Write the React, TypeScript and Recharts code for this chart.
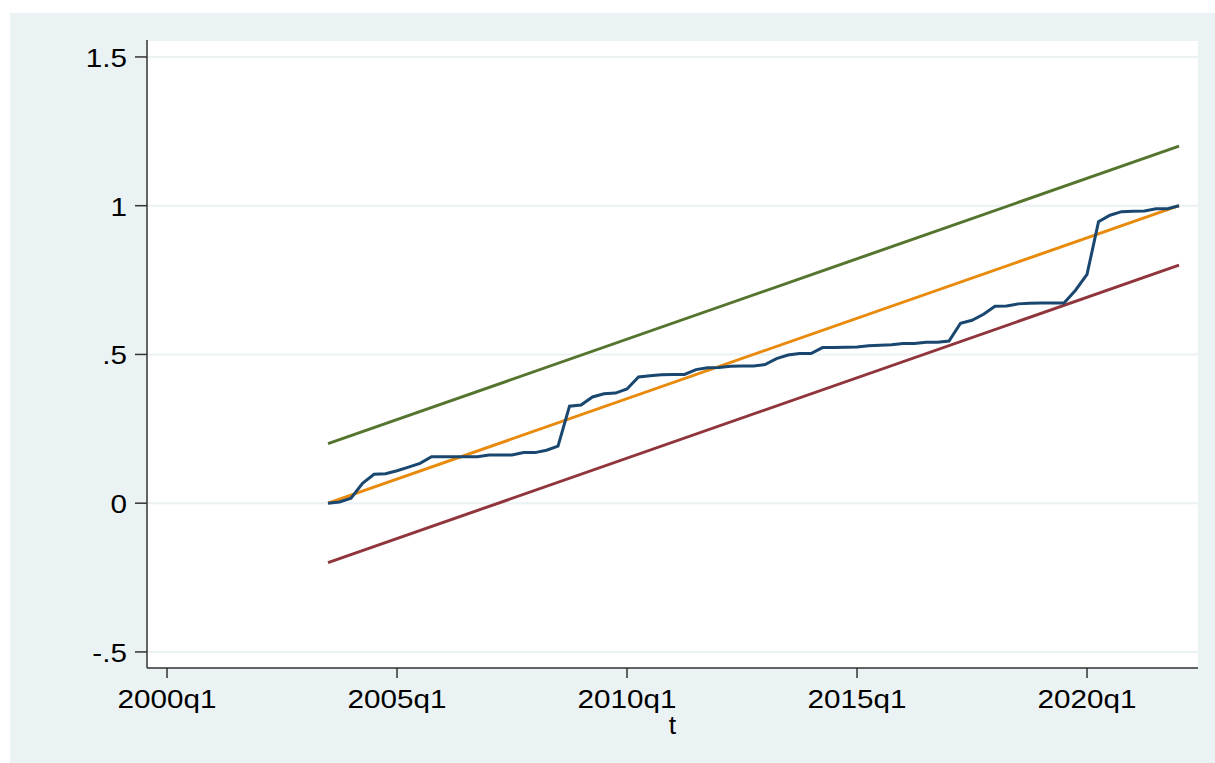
import { CartesianGrid, Line, LineChart, XAxis, YAxis } from "recharts";

// Stata quarterly dates: 2000q1 = 160
const firstQuarter = 174; // 2003q3
const lastQuarter = 248; // 2022q1
const xTicks = [160, 180, 200, 220, 240];
const yTicks = [-0.5, 0, 0.5, 1, 1.5];
const yTickLabels = ["-.5", "0", ".5", "1", "1.5"];

// recursive cusum, one value per quarter from 2003q3
const cusum = [
  0.0, 0.004, 0.017, 0.067, 0.097, 0.099, 0.109, 0.121, 0.134, 0.156,
  0.156, 0.156, 0.156, 0.156, 0.162, 0.162, 0.162, 0.17, 0.17, 0.178,
  0.192, 0.326, 0.33, 0.357, 0.368, 0.37, 0.384, 0.424, 0.428, 0.432,
  0.433, 0.433, 0.449, 0.455, 0.456, 0.46, 0.461, 0.461, 0.466, 0.486,
  0.498, 0.503, 0.503, 0.523, 0.523, 0.524, 0.525, 0.529, 0.531, 0.533,
  0.537, 0.537, 0.541, 0.541, 0.545, 0.605, 0.615, 0.635, 0.662, 0.663,
  0.67, 0.672, 0.673, 0.673, 0.673, 0.716, 0.769, 0.946, 0.968, 0.98,
  0.981, 0.982, 0.99, 0.99, 1.0,
];

// straight reference lines: value at first and last quarter
const midLine = [0, 1];
const upperBand = [0.2, 1.2];
const lowerBand = [-0.2, 0.8];

const FONT = '"Liberation Sans", Arial, sans-serif';
const AXIS = "#333333";

const rows = cusum.map((v, i) => {
  const t = firstQuarter + i;
  const end = t === firstQuarter ? 0 : t === lastQuarter ? 1 : -1;
  return {
    t,
    cusum: v,
    mid: end >= 0 ? midLine[end] : undefined,
    upper: end >= 0 ? upperBand[end] : undefined,
    lower: end >= 0 ? lowerBand[end] : undefined,
  };
});

const quarterLabel = (t: number) => `${1960 + Math.floor(t / 4)}q${(t % 4) + 1}`;

function XTick(props: any) {
  const { x, y, payload } = props;
  return (
    <g transform={`translate(${x},${y + 28}) scale(1.12,1)`}>
      <text x={0} y={0} textAnchor="middle" fontFamily={FONT} fontSize={26.5} fill="#000">
        {quarterLabel(payload.value)}
      </text>
    </g>
  );
}

function YTick(props: any) {
  const { x, y, payload } = props;
  const label = yTickLabels[yTicks.indexOf(payload.value)] ?? String(payload.value);
  return (
    <g transform={`translate(${x},${y + 10}) scale(1.12,1)`}>
      <text x={0} y={0} textAnchor="end" fontFamily={FONT} fontSize={26.5} fill="#000">
        {label}
      </text>
    </g>
  );
}

export default function App() {
  return (
    <div
      style={{
        position: "absolute",
        left: 0,
        top: 0,
        width: 1215,
        height: 763,
        background: "#ffffff",
        overflow: "hidden",
      }}
    >
      <div
        style={{
          position: "absolute",
          left: 10,
          top: 13,
          right: 0,
          bottom: 0,
          background: "#eaf2f3",
        }}
      />
      <div style={{ position: "absolute", left: 0, top: 0 }}>
        <LineChart
          width={1215}
          height={763}
          data={rows}
          margin={{ top: 40, right: 17, bottom: 10, left: 10 }}
        >
          <CartesianGrid
            vertical={false}
            horizontal
            fill="#ffffff"
            stroke="#eaf2f3"
            strokeWidth={2}
          />
          <XAxis
            dataKey="t"
            type="number"
            domain={[158.26, 249.65]}
            ticks={xTicks}
            height={85}
            tickSize={10}
            tickMargin={2}
            tick={<XTick />}
            axisLine={{ stroke: AXIS, strokeWidth: 1.5 }}
            tickLine={{ stroke: AXIS, strokeWidth: 1.5 }}
            allowDataOverflow
            label={{
              content: ({ viewBox }: any) => (
                <text
                  x={viewBox.x + viewBox.width / 2}
                  y={viewBox.y + 66}
                  textAnchor="middle"
                  fontFamily={FONT}
                  fontSize={26.5}
                  fill="#000"
                >
                  t
                </text>
              ),
            }}
          />
          <YAxis
            type="number"
            domain={[-0.554, 1.557]}
            ticks={yTicks}
            width={137}
            tickSize={12}
            tickMargin={8}
            tick={<YTick />}
            axisLine={{ stroke: AXIS, strokeWidth: 1.5 }}
            tickLine={{ stroke: AXIS, strokeWidth: 1.5 }}
            allowDataOverflow
          />
          <Line
            type="linear"
            dataKey="upper"
            stroke="#55752f"
            strokeWidth={3}
            dot={false}
            connectNulls
            isAnimationActive={false}
          />
          <Line
            type="linear"
            dataKey="lower"
            stroke="#90353b"
            strokeWidth={3}
            dot={false}
            connectNulls
            isAnimationActive={false}
          />
          <Line
            type="linear"
            dataKey="mid"
            stroke="#e88a0c"
            strokeWidth={3}
            dot={false}
            connectNulls
            isAnimationActive={false}
          />
          <Line
            type="linear"
            dataKey="cusum"
            stroke="#1a476f"
            strokeWidth={3}
            dot={false}
            isAnimationActive={false}
          />
        </LineChart>
      </div>
    </div>
  );
}
